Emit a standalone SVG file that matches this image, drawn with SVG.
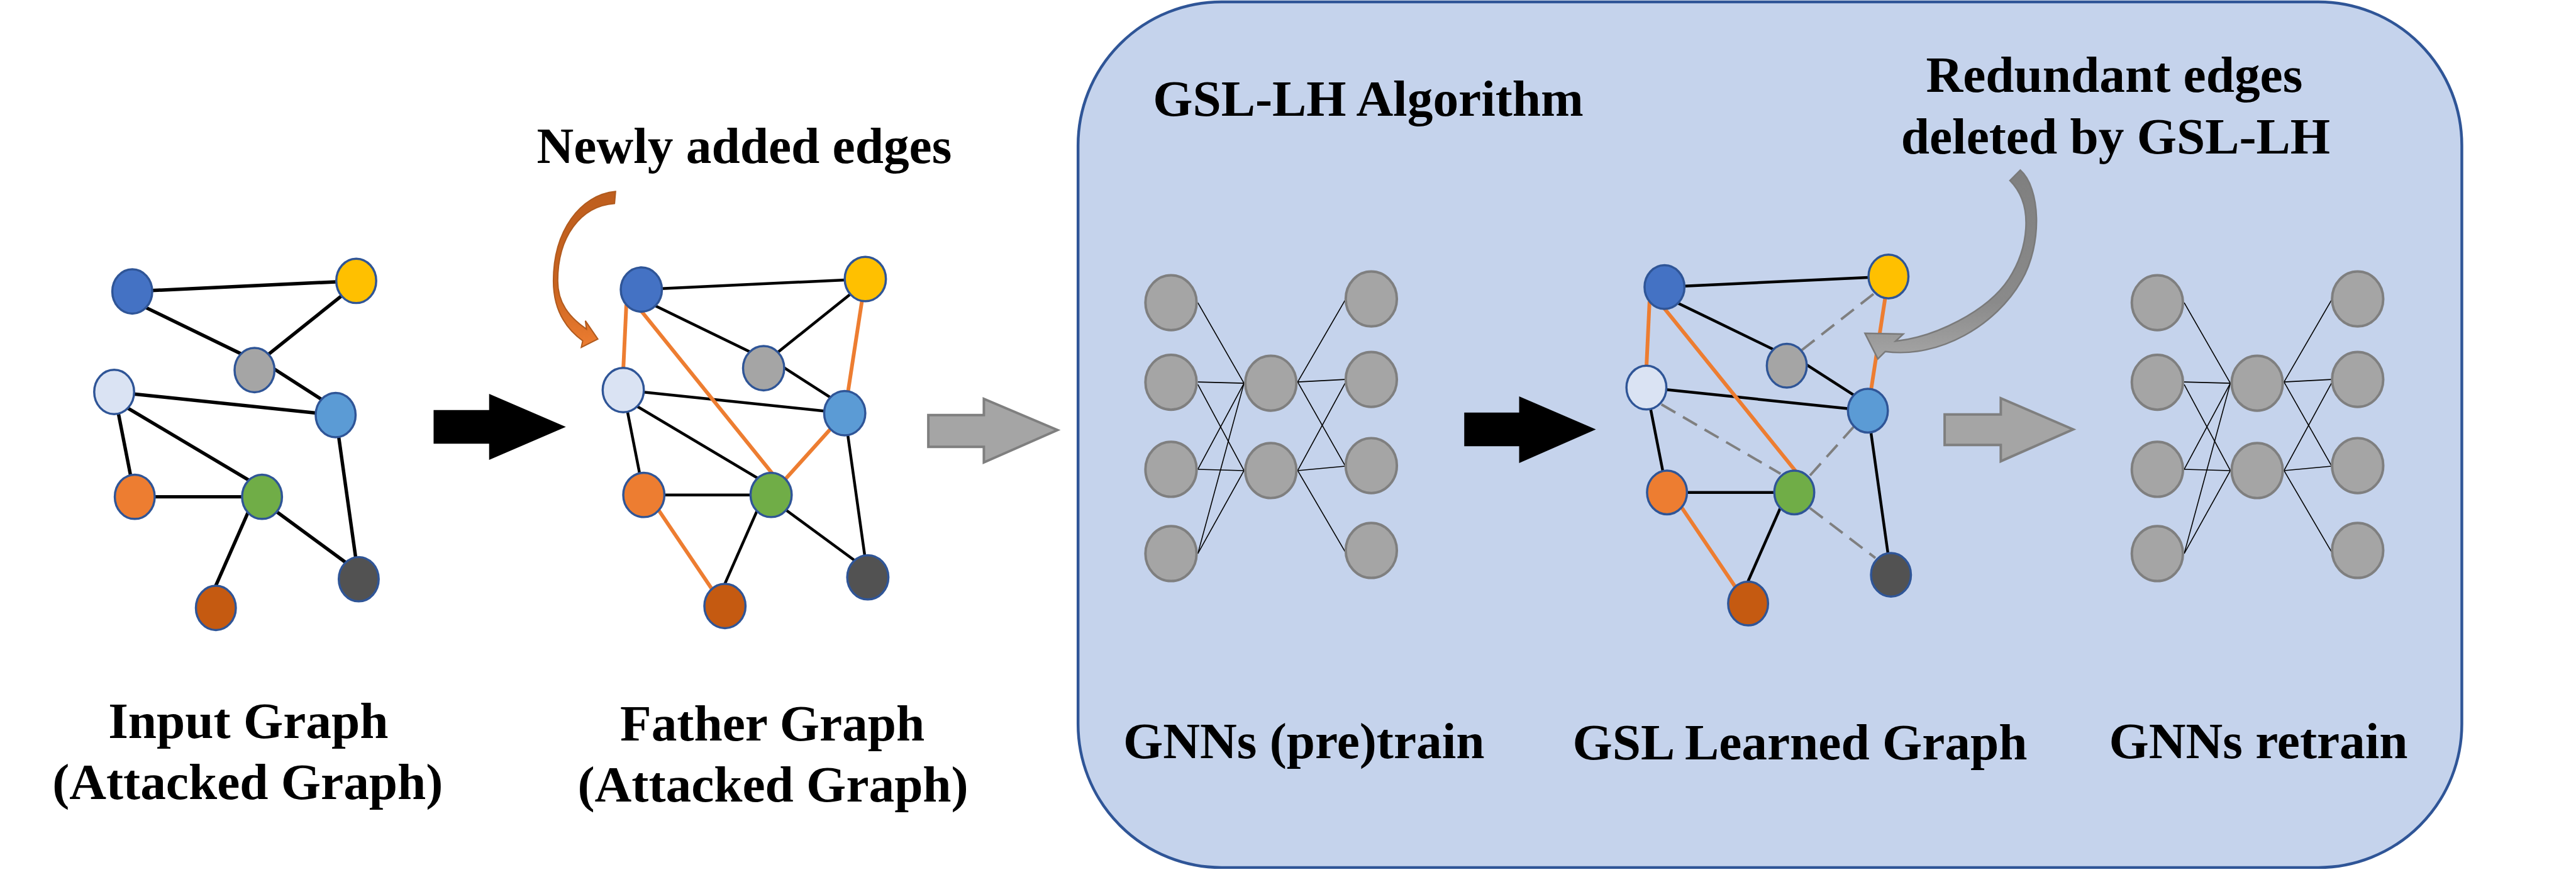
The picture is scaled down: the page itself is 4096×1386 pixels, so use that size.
<svg xmlns="http://www.w3.org/2000/svg" width="4096" height="1386" viewBox="0 0 4096 1386">
<defs>
<style>
.e1{stroke:#000;stroke-width:5.5;fill:none}
.e2{stroke:#000;stroke-width:4.5;fill:none}
.o{stroke:#ED7D31;stroke-width:6;fill:none}
.d{stroke:#7F7F7F;stroke-width:4;stroke-dasharray:26 14;fill:none}
.n{stroke:#2F5597;stroke-width:3.5}
.gn{fill:#A5A5A5;stroke:#7F7F7F;stroke-width:4}
.w{stroke:#000;stroke-width:1.6;fill:none}
.ba{fill:#000}
.ga{fill:#A5A5A5;stroke:#7F7F7F;stroke-width:4;stroke-linejoin:miter}
.c1{fill:#4472C4}.c2{fill:#FFC000}.c3{fill:#A5A5A5}.c4{fill:#DAE3F3}.c5{fill:#5B9BD5}
.c6{fill:#ED7D31}.c7{fill:#70AD47}.c8{fill:#C55A11}.c9{fill:#525252}
</style>
<linearGradient id="ogr" x1="0" y1="0" x2="0" y2="1">
<stop offset="0" stop-color="#BE5E1E"/>
<stop offset="0.6" stop-color="#C8631F"/>
<stop offset="1" stop-color="#ED7D31"/>
</linearGradient>
<linearGradient id="ggr" x1="0" y1="0" x2="0" y2="1">
<stop offset="0" stop-color="#7F7F7F"/>
<stop offset="0.7" stop-color="#8A8A8A"/>
<stop offset="1" stop-color="#A5A5A5"/>
</linearGradient>
</defs>
<g transform="scale(0.992007)">
<g id="algorithm-box">
<rect x="1728" y="3" width="2218" height="1387" rx="230" ry="230" fill="#C5D3EC" stroke="#2F5597" stroke-width="4.5"/>
</g>

<g id="connectors">
<g id="edges-input">
<line class="e1" x1="212" y1="467" x2="571" y2="450"/>
<line class="e1" x1="226" y1="489" x2="395" y2="571"/>
<line class="e1" x1="560" y1="464" x2="420" y2="576"/>
<line class="e1" x1="436" y1="589" x2="520" y2="643"/>
<line class="e1" x1="183" y1="628" x2="538" y2="665"/>
<line class="e1" x1="183" y1="628" x2="216" y2="796"/>
<line class="e1" x1="195" y1="648" x2="410" y2="776"/>
<line class="e1" x1="216" y1="796" x2="420" y2="796"/>
<line class="e1" x1="402" y1="811" x2="343" y2="945"/>
<line class="e1" x1="434" y1="813" x2="562" y2="907"/>
<line class="e1" x1="538" y1="665" x2="575" y2="928"/>
</g>
<g id="edges-father" transform="translate(816,-3)">
<line class="e2" x1="212" y1="467" x2="571" y2="450"/>
<line class="e2" x1="226" y1="489" x2="395" y2="571"/>
<line class="e2" x1="560" y1="464" x2="420" y2="576"/>
<line class="e2" x1="436" y1="589" x2="520" y2="643"/>
<line class="e2" x1="183" y1="628" x2="538" y2="665"/>
<line class="e2" x1="183" y1="628" x2="216" y2="796"/>
<line class="e2" x1="195" y1="648" x2="410" y2="776"/>
<line class="e2" x1="216" y1="796" x2="420" y2="796"/>
<line class="e2" x1="402" y1="811" x2="343" y2="945"/>
<line class="e2" x1="434" y1="813" x2="562" y2="907"/>
<line class="e2" x1="538" y1="665" x2="575" y2="928"/>
<line class="o" x1="188" y1="490" x2="183" y2="596"/>
<line class="o" x1="210" y1="499" x2="423" y2="763"/>
<line class="o" x1="571" y1="450" x2="538" y2="665"/>
<line class="o" x1="538" y1="665" x2="420" y2="796"/>
<line class="o" x1="230" y1="806" x2="332" y2="957"/>
</g>
<g id="edges-learned" transform="translate(2456,-7)">
<line class="e2" x1="212" y1="467" x2="571" y2="450"/>
<line class="e2" x1="226" y1="489" x2="395" y2="571"/>
<line class="e2" x1="436" y1="589" x2="520" y2="643"/>
<line class="e2" x1="183" y1="628" x2="538" y2="665"/>
<line class="e2" x1="183" y1="628" x2="216" y2="796"/>
<line class="e2" x1="216" y1="796" x2="420" y2="796"/>
<line class="e2" x1="402" y1="811" x2="343" y2="945"/>
<line class="e2" x1="538" y1="665" x2="575" y2="928"/>
<line class="d" x1="547" y1="478" x2="432" y2="568"/>
<line class="d" x1="207" y1="655" x2="398" y2="766"/>
<line class="d" x1="516" y1="690" x2="445" y2="769"/>
<line class="d" x1="445" y1="821" x2="550" y2="901"/>
<line class="o" x1="188" y1="490" x2="183" y2="596"/>
<line class="o" x1="210" y1="499" x2="423" y2="763"/>
<line class="o" x1="571" y1="450" x2="538" y2="665"/>
<line class="o" x1="230" y1="806" x2="332" y2="957"/>
</g>
<g id="links-pretrain">
<line class="w" x1="1920" y1="485" x2="1994" y2="614"/>
<line class="w" x1="1920" y1="612" x2="1994" y2="614"/>
<line class="w" x1="1920" y1="616" x2="1994" y2="754"/>
<line class="w" x1="1920" y1="752" x2="1994" y2="614"/>
<line class="w" x1="1920" y1="752" x2="1994" y2="754"/>
<line class="w" x1="1920" y1="887" x2="1994" y2="614"/>
<line class="w" x1="1920" y1="887" x2="1994" y2="754"/>
<line class="w" x1="2080" y1="612" x2="2156" y2="481"/>
<line class="w" x1="2080" y1="612" x2="2156" y2="608"/>
<line class="w" x1="2080" y1="612" x2="2156" y2="746"/>
<line class="w" x1="2080" y1="754" x2="2156" y2="614"/>
<line class="w" x1="2080" y1="754" x2="2156" y2="747"/>
<line class="w" x1="2080" y1="754" x2="2156" y2="884"/>
</g>
<g id="links-retrain" transform="translate(1581,0)">
<line class="w" x1="1920" y1="485" x2="1994" y2="614"/>
<line class="w" x1="1920" y1="612" x2="1994" y2="614"/>
<line class="w" x1="1920" y1="616" x2="1994" y2="754"/>
<line class="w" x1="1920" y1="752" x2="1994" y2="614"/>
<line class="w" x1="1920" y1="752" x2="1994" y2="754"/>
<line class="w" x1="1920" y1="887" x2="1994" y2="614"/>
<line class="w" x1="1920" y1="887" x2="1994" y2="754"/>
<line class="w" x1="2080" y1="612" x2="2156" y2="481"/>
<line class="w" x1="2080" y1="612" x2="2156" y2="608"/>
<line class="w" x1="2080" y1="612" x2="2156" y2="746"/>
<line class="w" x1="2080" y1="754" x2="2156" y2="614"/>
<line class="w" x1="2080" y1="754" x2="2156" y2="747"/>
<line class="w" x1="2080" y1="754" x2="2156" y2="884"/>
</g>
<polygon id="arrow-black-1" class="ba" points="695,657 784,657 784,631 907,684 784,737 784,711 695,711"/>
<polygon id="arrow-gray-1" class="ga" points="1488,665 1577,665 1577,639 1695,689 1577,741 1577,716 1488,716"/>
<polygon id="arrow-black-2" class="ba" points="2347,661 2435,661 2435,635 2558,688 2435,742 2435,715 2347,715"/>
<polygon id="arrow-gray-2" class="ga" points="3117,664 3207,664 3207,638 3323,688 3207,739 3207,713 3117,713"/>
<path id="arrow-newly-added" d="M 986.7,306.7 C 930,312 887,370 887,450 C 887,495 905,525 934,546 L 931.7,556.7 L 958.3,543.3 L 938.3,514 L 940,527.3 C 912,508 894,485 894,450 C 894,380 930,330 985,326 Z" fill="url(#ogr)" stroke="#B05A1E" stroke-width="2" stroke-linejoin="miter"/>
<path id="arrow-redundant" d="M 2989.3,534 L 3050.7,535.3 L 3038.3,546.7 C 3100,540 3185,500 3220,446.7 C 3250,400 3262,330 3221.7,289.3 L 3238.3,272.7 C 3270,300 3275,390 3240,450 C 3200,520 3110,575 3021.7,563.3 L 3010,575 Z" fill="url(#ggr)" stroke="#7A7A7A" stroke-width="2.5" stroke-linejoin="miter"/>
</g>

<g id="input-graph">
<g id="in-n1"><ellipse class="n c1" cx="212" cy="467" rx="32" ry="35.5"/></g>
<g id="in-n2"><ellipse class="n c2" cx="571" cy="450" rx="32" ry="35.5"/></g>
<g id="in-n3"><ellipse class="n c3" cx="408" cy="593" rx="32" ry="35.5"/></g>
<g id="in-n4"><ellipse class="n c4" cx="183" cy="628" rx="32" ry="35.5"/></g>
<g id="in-n5"><ellipse class="n c5" cx="538" cy="665" rx="32" ry="35.5"/></g>
<g id="in-n6"><ellipse class="n c6" cx="216" cy="796" rx="32" ry="35.5"/></g>
<g id="in-n7"><ellipse class="n c7" cx="420" cy="796" rx="32" ry="35.5"/></g>
<g id="in-n8"><ellipse class="n c8" cx="346" cy="974" rx="32" ry="35.5"/></g>
<g id="in-n9"><ellipse class="n c9" cx="575" cy="928" rx="32" ry="35.5"/></g>
</g>
<g id="father-graph" transform="translate(816,-3)">
<g id="fa-n1"><ellipse class="n c1" cx="212" cy="467" rx="33" ry="35.5"/></g>
<g id="fa-n2"><ellipse class="n c2" cx="571" cy="450" rx="33" ry="35.5"/></g>
<g id="fa-n3"><ellipse class="n c3" cx="408" cy="593" rx="33" ry="35.5"/></g>
<g id="fa-n4"><ellipse class="n c4" cx="183" cy="628" rx="33" ry="35.5"/></g>
<g id="fa-n5"><ellipse class="n c5" cx="538" cy="665" rx="33" ry="35.5"/></g>
<g id="fa-n6"><ellipse class="n c6" cx="216" cy="796" rx="33" ry="35.5"/></g>
<g id="fa-n7"><ellipse class="n c7" cx="420" cy="796" rx="33" ry="35.5"/></g>
<g id="fa-n8"><ellipse class="n c8" cx="346" cy="974" rx="33" ry="35.5"/></g>
<g id="fa-n9"><ellipse class="n c9" cx="575" cy="928" rx="33" ry="35.5"/></g>
</g>
<g id="learned-graph" transform="translate(2456,-7)">
<g id="le-n1"><ellipse class="n c1" cx="212" cy="467" rx="32" ry="35"/></g>
<g id="le-n2"><ellipse class="n c2" cx="571" cy="450" rx="32" ry="35"/></g>
<g id="le-n3"><ellipse class="n c3" cx="408" cy="593" rx="32" ry="35"/></g>
<g id="le-n4"><ellipse class="n c4" cx="183" cy="628" rx="32" ry="35"/></g>
<g id="le-n5"><ellipse class="n c5" cx="538" cy="665" rx="32" ry="35"/></g>
<g id="le-n6"><ellipse class="n c6" cx="216" cy="796" rx="32" ry="35"/></g>
<g id="le-n7"><ellipse class="n c7" cx="420" cy="796" rx="32" ry="35"/></g>
<g id="le-n8"><ellipse class="n c8" cx="346" cy="974" rx="32" ry="35"/></g>
<g id="le-n9"><ellipse class="n c9" cx="575" cy="928" rx="32" ry="35"/></g>
</g>
<g id="gnn-pretrain">
<g id="pt-l1"><ellipse class="gn" cx="1877" cy="485" rx="41" ry="44"/></g>
<g id="pt-l2"><ellipse class="gn" cx="1877" cy="612.5" rx="41" ry="44"/></g>
<g id="pt-l3"><ellipse class="gn" cx="1877" cy="752" rx="41" ry="44"/></g>
<g id="pt-l4"><ellipse class="gn" cx="1877" cy="887" rx="41" ry="44"/></g>
<g id="pt-m1"><ellipse class="gn" cx="2037" cy="614" rx="41" ry="44"/></g>
<g id="pt-m2"><ellipse class="gn" cx="2037" cy="754" rx="41" ry="44"/></g>
<g id="pt-r1"><ellipse class="gn" cx="2198" cy="479" rx="41" ry="44"/></g>
<g id="pt-r2"><ellipse class="gn" cx="2198" cy="608" rx="41" ry="44"/></g>
<g id="pt-r3"><ellipse class="gn" cx="2198" cy="746" rx="41" ry="44"/></g>
<g id="pt-r4"><ellipse class="gn" cx="2198" cy="882" rx="41" ry="44"/></g>
</g>
<g id="gnn-retrain" transform="translate(1581,0)">
<g id="rt-l1"><ellipse class="gn" cx="1877" cy="485" rx="41" ry="44"/></g>
<g id="rt-l2"><ellipse class="gn" cx="1877" cy="612.5" rx="41" ry="44"/></g>
<g id="rt-l3"><ellipse class="gn" cx="1877" cy="752" rx="41" ry="44"/></g>
<g id="rt-l4"><ellipse class="gn" cx="1877" cy="887" rx="41" ry="44"/></g>
<g id="rt-m1"><ellipse class="gn" cx="2037" cy="614" rx="41" ry="44"/></g>
<g id="rt-m2"><ellipse class="gn" cx="2037" cy="754" rx="41" ry="44"/></g>
<g id="rt-r1"><ellipse class="gn" cx="2198" cy="479" rx="41" ry="44"/></g>
<g id="rt-r2"><ellipse class="gn" cx="2198" cy="608" rx="41" ry="44"/></g>
<g id="rt-r3"><ellipse class="gn" cx="2198" cy="746" rx="41" ry="44"/></g>
<g id="rt-r4"><ellipse class="gn" cx="2198" cy="882" rx="41" ry="44"/></g>
</g>

<g id="labels" font-family="'Liberation Serif', 'DejaVu Serif', 'Times New Roman', serif" font-weight="bold" font-size="82" fill="#000">
<text x="1193" y="261" text-anchor="middle">Newly added edges</text>
<text x="1848" y="185">GSL-LH Algorithm</text>
<text x="3389" y="147" text-anchor="middle">Redundant edges</text>
<text x="3391" y="246" text-anchor="middle">deleted by GSL-LH</text>
<text x="398" y="1182" text-anchor="middle">Input Graph</text>
<text x="397" y="1280" text-anchor="middle">(Attacked Graph)</text>
<text x="1238" y="1186" text-anchor="middle">Father Graph</text>
<text x="1239" y="1284" text-anchor="middle">(Attacked Graph)</text>
<text x="2090" y="1215" text-anchor="middle">GNNs (pre)train</text>
<text x="2885" y="1217" text-anchor="middle">GSL Learned Graph</text>
<text x="3620" y="1215" text-anchor="middle">GNNs retrain</text>
</g>
</g>
</svg>
